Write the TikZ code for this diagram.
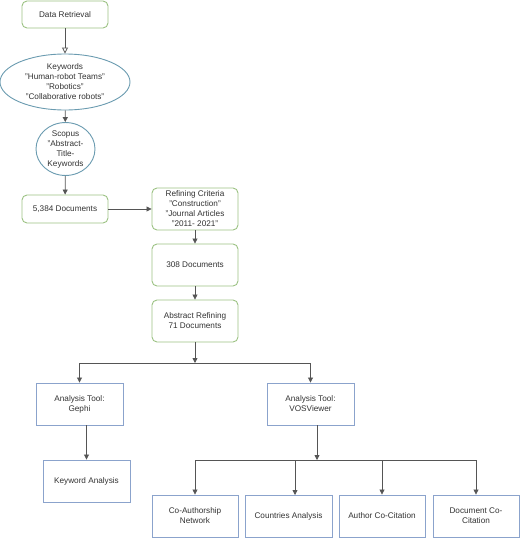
\documentclass[tikz,border=0pt]{standalone}
\usepackage{fontspec}
\setmainfont{Liberation Sans}
\usetikzlibrary{shapes.geometric,arrows.meta}
\definecolor{boxgreen}{HTML}{9CC283}
\definecolor{boxblue}{HTML}{8BA3CC}
\definecolor{ellblue}{HTML}{6A9BB0}
\definecolor{linegray}{HTML}{555555}
\definecolor{txtgray}{HTML}{333333}

\begin{document}
\begin{tikzpicture}[x=1pt,y=-1pt]
        \tikzstyle{base}=[align=center, text=txtgray, font=\fontsize{8.2}{10}\selectfont, inner sep=0pt, line width=0.9pt]
        \tikzstyle{greenbox}=[base, rectangle, rounded corners=5pt, draw=boxgreen, fill=white, minimum width=86pt, minimum height=42pt]
        \tikzstyle{bluebox}=[base, rectangle, draw=boxblue, fill=white, minimum width=87pt, minimum height=42pt]
        \tikzstyle{ellip}=[base, ellipse, draw=ellblue, fill=white]
        \tikzstyle{arr}=[draw=linegray, line width=0.8pt, -{Triangle[length=5pt,width=5pt]}]
        \useasboundingbox (0,0) rectangle (520,538);

        % search
        \node[greenbox, minimum height=27pt] (retrieval) at (65,14.5) {Data Retrieval};
        \node[ellip, minimum width=130pt, minimum height=56pt] (keywords) at (65,82) {Keywords\\"Human-robot Teams"\\"Robotics"\\"Collaborative robots"};
        \node[ellip, minimum width=59pt, minimum height=52pt] (scopus) at (65.5,149) {Scopus\\"Abstract-\\Title-\\Keywords};
        \node[greenbox, minimum height=28pt] (docs5384) at (65,209) {5,384 Documents};

        % refining
        \node[greenbox] (criteria) at (195,209) {Refining Criteria\\"Construction"\\"Journal Articles\\"2011- 2021"};
        \node[greenbox] (docs308) at (195,265) {308 Documents};
        \node[greenbox] (abstract) at (195,321) {Abstract Refining\\71 Documents};

        % analysis
        \node[bluebox] (gephi) at (79.5,404) {Analysis Tool:\\Gephi};
        \node[bluebox] (vos) at (310.5,404) {Analysis Tool:\\VOSViewer};
        \node[bluebox] (keyan) at (86.5,481) {Keyword Analysis};
        \node[bluebox, minimum width=86pt] (coauth) at (195,516) {Co-Authorship\\Network};
        \node[bluebox] (countries) at (288.5,516) {Countries Analysis};
        \node[bluebox, minimum width=86pt] (authcit) at (382,516) {Author Co-Citation};
        \node[bluebox, minimum width=86pt] (doccit) at (476,516) {Document Co-\\Citation};

        \coordinate (split1) at (195,363);
        \coordinate (split2) at (317,460);
        \coordinate (countriesin) at (295,495);

        \draw [draw=linegray, line width=0.8pt, -{Triangle[open,length=6pt,width=6pt]}] (retrieval) -- (keywords);
        \draw [arr] (keywords) -- (scopus);
        \draw [arr] (scopus) -- (docs5384);
        \draw [arr] (docs5384) -- (criteria);
        \draw [arr] (criteria) -- (docs308);
        \draw [arr] (docs308) -- (abstract);
        \draw [arr] (abstract) -- (split1);
        \draw [arr] (split1) -| (gephi);
        \draw [arr] (split1) -| (vos);
        \draw [arr] (gephi.south -| keyan) -- (keyan);
        \draw [arr] (vos.south -| split2) -- (split2);
        \foreach \target in {coauth,authcit,doccit}
            \draw [arr] (split2) -| (\target);
        \draw [arr] (split2) -| (countriesin);
    \end{tikzpicture}
\end{document}
